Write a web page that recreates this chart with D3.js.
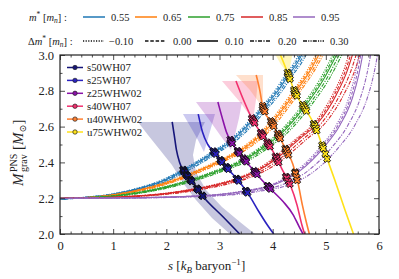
<!DOCTYPE html>
<html><head><meta charset="utf-8">
<script src="https://cdn.jsdelivr.net/npm/d3@7"></script>
<style>
body{margin:0;background:#fff}
svg{display:block}
text{font-family:"Liberation Serif","DejaVu Serif",serif;fill:#222}
</style>
</head><body><svg id="c" width="399" height="279"></svg>
<script>
// ---------------- data ----------------
const mStarLabels = ["0.55","0.65","0.75","0.85","0.95"];
const dmStarLabels = ["\u22120.10","0.00","0.10","0.20","0.30"];
const xTicks = [0,1,2,3,4,5,6];
const yTicks = [2.0,2.2,2.4,2.6,2.8,3.0];

// M_grav(s) for Δm* = 0.10 (s, M)
const curve055 = [[0,2.195],[0.5,2.205],[1.0,2.222],[1.5,2.255],[2.0,2.305],[2.3,2.35],[2.6,2.40],[2.92,2.46],[3.23,2.52],[3.61,2.63],[3.82,2.70],[4.1,2.80],[4.29,2.885],[4.45,2.95],[4.6,3.03]];
const curve065 = [[0,2.198],[0.5,2.203],[1.0,2.218],[1.5,2.245],[2.0,2.285],[2.5,2.34],[3.0,2.405],[3.39,2.465],[3.65,2.52],[3.86,2.575],[3.99,2.62],[4.2,2.70],[4.42,2.79],[4.7,2.91],[4.92,3.03]];
const curve075 = [[0,2.2],[0.5,2.203],[1.0,2.212],[1.5,2.232],[2.0,2.262],[2.5,2.303],[3.0,2.355],[3.38,2.40],[3.86,2.49],[4.14,2.555],[4.6,2.71],[4.95,2.86],[5.25,3.03]];
const curve085 = [[0,2.2],[1.0,2.205],[1.5,2.213],[2.0,2.226],[2.5,2.248],[3.0,2.278],[3.38,2.31],[3.7,2.35],[4.0,2.405],[4.23,2.46],[4.5,2.53],[4.85,2.62],[5.2,2.78],[5.4,2.91],[5.53,3.03]];
const curve095 = [[0,2.2],[1.0,2.201],[2.0,2.206],[3.0,2.22],[3.5,2.24],[4.0,2.272],[4.5,2.35],[4.95,2.48],[5.27,2.61],[5.5,2.76],[5.62,2.89],[5.71,3.03]];
// horizontal offset (in s) of each Δm* curve relative to the Δm*=0.10 one
const shift055 = [-0.06,-0.03,0,0.04,0.08];
const shift065 = [-0.06,-0.03,0,0.04,0.08];
const shift075 = [-0.07,-0.035,0,0.05,0.10];
const shift085 = [-0.07,-0.035,0,0.07,0.14];
const shift095 = [-0.07,-0.035,0,0.15,0.28];

const progenitors = ["s50WH07","s25WH07","z25WHW02","s40WH07","u40WHW02","u75WHW02"];
const trackS50 = [[2.11,2.626],[2.15,2.55],[2.19,2.47],[2.25,2.40],[2.34,2.345],[2.5,2.285],[2.69,2.21],[3.07,2.095],[3.38,2.0]];
const trackS25 = [[2.60,2.67],[2.68,2.57],[2.78,2.50],[2.92,2.45],[3.05,2.40],[3.2,2.35],[3.35,2.30],[3.55,2.22],[3.75,2.12],[3.9,2.05],[4.02,2.0]];
const trackZ25 = [[2.97,2.737],[3.05,2.65],[3.13,2.57],[3.23,2.51],[3.4,2.44],[3.6,2.37],[3.8,2.30],[4.0,2.24],[4.2,2.18],[4.38,2.11],[4.5,2.04],[4.57,2.0]];
const trackS40 = [[3.31,2.855],[3.45,2.75],[3.61,2.645],[3.8,2.555],[3.99,2.47],[4.18,2.36],[4.33,2.275],[4.46,2.16],[4.55,2.05],[4.6,2.0]];
const trackU40 = [[3.69,2.888],[3.76,2.80],[3.82,2.70],[3.99,2.62],[4.14,2.535],[4.25,2.47],[4.38,2.39],[4.48,2.28],[4.56,2.16],[4.63,2.07],[4.69,2.0]];
const trackU75 = [[4.12,3.02],[4.29,2.894],[4.42,2.79],[4.6,2.705],[4.8,2.60],[4.95,2.48],[5.17,2.30],[5.36,2.134],[5.52,2.0]];

// uncertainty regions (s, M) polygons
const bandS50 = [[1.467,2.626],[2.727,2.626],[2.558,2.525],[2.501,2.441],[2.558,2.346],[2.746,2.246],[3.047,2.151],[3.385,2.067],[3.667,2.0],[3.197,2.0],[2.859,2.089],[2.558,2.190],[2.313,2.285],[2.106,2.385],[1.881,2.469],[1.655,2.553]];
const bandS25 = [[2.313,2.670],[2.915,2.670],[2.840,2.592],[2.765,2.514],[2.708,2.458],[2.595,2.525],[2.445,2.603]];
const bandZ25 = [[2.558,2.737],[3.423,2.737],[3.367,2.648],[3.291,2.553],[3.216,2.469],[3.009,2.553],[2.783,2.648]];
const bandS40 = [[3.047,2.855],[3.724,2.855],[3.686,2.749],[3.630,2.637],[3.385,2.737]];
const bandU40 = [[3.310,2.888],[3.818,2.888],[3.818,2.793],[3.818,2.704],[3.573,2.804]];
const bandU75 = [[3.96,3.05],[4.40,3.05],[4.30,2.89],[4.15,2.95]];

// ---------------- styles ----------------
const mColors = ["#1f77b4","#ff7f0e","#2ca02c","#d62728","#9467bd"];
const dashes = ["1.2,1.4","3.5,1.8","", "4,1.4,1.2,1.4", "4,1.2,1.1,1.2,1.1,1.2"];
const pColors = ["#16167a","#2a22c0","#8a12a8","#f2306e","#ff7f30","#ffe21a"];

const curves = [curve055,curve065,curve075,curve085,curve095];
const shifts = [shift055,shift065,shift075,shift085,shift095];
const tracks = [trackS50,trackS25,trackZ25,trackS40,trackU40,trackU75];
const bands = [bandS50,bandS25,bandZ25,bandS40,bandU40,bandU75];

// ---------------- chart ----------------
const svg = d3.select("#c");
const L=60,R=379,T=55,B=234;
const x = d3.scaleLinear().domain([0,6]).range([L,R]);
const y = d3.scaleLinear().domain([2.0,3.0]).range([B,T]);

svg.append("defs").append("clipPath").attr("id","clip")
  .append("rect").attr("x",L).attr("y",T).attr("width",R-L).attr("height",B-T);
const plot = svg.append("g").attr("clip-path","url(#clip)");

// bands
plot.selectAll("path.band").data(bands).join("path")
  .attr("class","band")
  .attr("d", d => "M" + d.map(p=>[x(p[0]),y(p[1])].join(",")).join("L") + "Z")
  .attr("fill",(d,i)=>pColors[i]).attr("fill-opacity",(d,i)=> i===5?0.3:0.24);

// M*(s) curves
const line = d3.line().x(d=>x(d[0])).y(d=>y(d[1])).curve(d3.curveMonotoneX);
curves.forEach((c,ci)=>{
  shifts[ci].forEach((sh,k)=>{
    plot.append("path")
      .attr("d", line(c.map(p=>[p[0]+sh,p[1]])))
      .attr("fill","none").attr("stroke",mColors[ci]).attr("stroke-width",1.1)
      .attr("stroke-dasharray",dashes[k]||null);
  });
});

// tracks
tracks.forEach((t,i)=>{
  plot.append("path").attr("d",line(t)).attr("fill","none")
    .attr("stroke",pColors[i]).attr("stroke-width",1.6);
});

// intersections -> markers
function lin(pts,s){
  if(s<pts[0][0]||s>pts[pts.length-1][0]) return NaN;
  for(let i=0;i<pts.length-1;i++){
    const a=pts[i],b=pts[i+1];
    if(s>=a[0]&&s<=b[0]){const f=(s-a[0])/(b[0]-a[0]||1);return a[1]+f*(b[1]-a[1]);}
  }
  return NaN;
}
const markers=[];
tracks.forEach((t,ti)=>{
  curves.forEach((c,ci)=>{
    shifts[ci].forEach(sh=>{
      const sc=c.map(p=>[p[0]+sh,p[1]]);
      let prev=null;
      for(let s=t[0][0]; s<=t[t.length-1][0]; s+=0.002){
        const d=lin(t,s)-lin(sc,s);
        if(isNaN(d)){prev=null;continue;}
        if(prev!==null && Math.sign(d)!==Math.sign(prev.d)){
          markers.push({s:s,M:lin(t,s),ti:ti});break;
        }
        prev={d:d};
      }
    });
  });
});
const sym = d3.symbol().type(d3.symbolCross).size(30);
plot.selectAll("path.mk").data(markers).join("path").attr("class","mk")
  .attr("transform",d=>`translate(${x(d.s)},${y(d.M)}) rotate(45)`)
  .attr("d",sym).attr("fill",d=>pColors[d.ti]).attr("stroke","#111").attr("stroke-width",0.9);

// axes
function axes(){
  const minorX = d3.range(0,6.001,0.2).filter(v=>Math.abs(v-Math.round(v))>1e-6);
  const minorY = d3.range(2.0,3.001,0.1).filter((v,i)=>i%2===1);
  svg.append("g").attr("transform",`translate(0,${B})`)
    .call(d3.axisBottom(x).tickValues(xTicks).tickSize(-5).tickPadding(7).tickFormat(d3.format("d")));
  svg.append("g").attr("transform",`translate(0,${B})`).call(d3.axisBottom(x).tickValues(minorX).tickSize(-2.5).tickFormat(""));
  svg.append("g").attr("transform",`translate(0,${T})`).call(d3.axisTop(x).tickValues(xTicks).tickSize(-5).tickFormat(""));
  svg.append("g").attr("transform",`translate(0,${T})`).call(d3.axisTop(x).tickValues(minorX).tickSize(-2.5).tickFormat(""));
  svg.append("g").attr("transform",`translate(${L},0)`)
    .call(d3.axisLeft(y).tickValues(yTicks).tickSize(-5).tickPadding(6).tickFormat(d3.format(".1f")));
  svg.append("g").attr("transform",`translate(${L},0)`).call(d3.axisLeft(y).tickValues(minorY).tickSize(-2.5).tickFormat(""));
  svg.append("g").attr("transform",`translate(${R},0)`).call(d3.axisRight(y).tickValues(yTicks).tickSize(-5).tickFormat(""));
  svg.append("g").attr("transform",`translate(${R},0)`).call(d3.axisRight(y).tickValues(minorY).tickSize(-2.5).tickFormat(""));
  svg.selectAll(".domain").remove();
  svg.selectAll(".tick line").attr("stroke","#222").attr("stroke-width",0.8);
  svg.selectAll(".tick text").attr("font-family","Liberation Serif, serif").attr("font-size",12.5).attr("fill","#222");
  svg.append("rect").attr("x",L).attr("y",T).attr("width",R-L).attr("height",B-T)
    .attr("fill","none").attr("stroke","#222").attr("stroke-width",1.2);
}
axes();

// inner legend
const lg = svg.append("g");
progenitors.forEach((p,i)=>{
  const yy = 67.5 + i*12.9;
  lg.append("line").attr("x1",67).attr("x2",83).attr("y1",yy).attr("y2",yy).attr("stroke",pColors[i]).attr("stroke-width",1.5);
  lg.append("circle").attr("cx",75).attr("cy",yy).attr("r",2.2).attr("fill",pColors[i]).attr("stroke","#222").attr("stroke-width",0.7);
  lg.append("text").attr("x",87).attr("y",yy+3.6).attr("font-size",10.8).text(p);
});

// top legend
function mlabel(g,xx,yy,prefix){
  const t=g.append("text").attr("x",xx).attr("y",yy).attr("font-size",10.5);
  if(prefix) t.append("tspan").text(prefix);
  t.append("tspan").attr("font-style","italic").text("m");
  t.append("tspan").attr("font-size",7.5).attr("dy",-4).text("*");
  t.append("tspan").attr("dy",4).text(" [");
  t.append("tspan").attr("font-style","italic").text("m");
  t.append("tspan").attr("font-size",7.5).attr("font-style","italic").attr("dy",2.5).text("n");
  t.append("tspan").attr("dy",-2.5).text("] :");
}
const tl = svg.append("g");
mlabel(tl,29,20.5,"");
mlabel(tl,28,44.5,"\u0394");
const row1X=[83,135,188,241,293];
mStarLabels.forEach((lab,i)=>{
  tl.append("line").attr("x1",row1X[i]).attr("x2",row1X[i]+22).attr("y1",17).attr("y2",17).attr("stroke",mColors[i]).attr("stroke-width",1.5);
  tl.append("text").attr("x",row1X[i]+28).attr("y",20.5).attr("font-size",10.5).text(lab);
});
const row2X=[83,145,197,250,303];
const row2T=[109,173,225,278,330];
dmStarLabels.forEach((lab,i)=>{
  tl.append("line").attr("x1",row2X[i]).attr("x2",row2X[i]+21).attr("y1",41).attr("y2",41).attr("stroke","#111").attr("stroke-width",1.6).attr("stroke-dasharray",dashes[i]||null);
  tl.append("text").attr("x",row2T[i]).attr("y",44.5).attr("font-size",10.5).text(lab);
});

// x label
const xl = svg.append("text").attr("x",168).attr("y",270).attr("font-size",13);
xl.append("tspan").attr("font-style","italic").text("s");
xl.append("tspan").text(" [");
xl.append("tspan").attr("font-style","italic").text("k");
xl.append("tspan").attr("font-style","italic").attr("font-size",9).attr("dy",3).text("B");
xl.append("tspan").attr("dy",-3).text(" baryon");
xl.append("tspan").attr("font-size",9).attr("dy",-5).text("\u22121");
xl.append("tspan").attr("dy",5).text("]");

// y label
const yg = svg.append("g").attr("transform","translate(23,144) rotate(-90)");
const yl = yg.append("text").attr("x",-42).attr("y",0).attr("font-size",15);
yl.append("tspan").attr("font-style","italic").text("M");
yl.append("tspan").attr("x",-28).attr("dy",-6).attr("font-size",10).text("PNS");
yl.append("tspan").attr("x",-28).attr("dy",10).attr("font-size",10).text("grav");
yl.append("tspan").attr("x",-6).attr("dy",-4).text("[");
yl.append("tspan").attr("font-style","italic").text("M");
yl.append("tspan").attr("font-size",9.5).attr("dy",3).text("\u2299");
yl.append("tspan").attr("dy",-3).text("]");
</script>
</body></html>
